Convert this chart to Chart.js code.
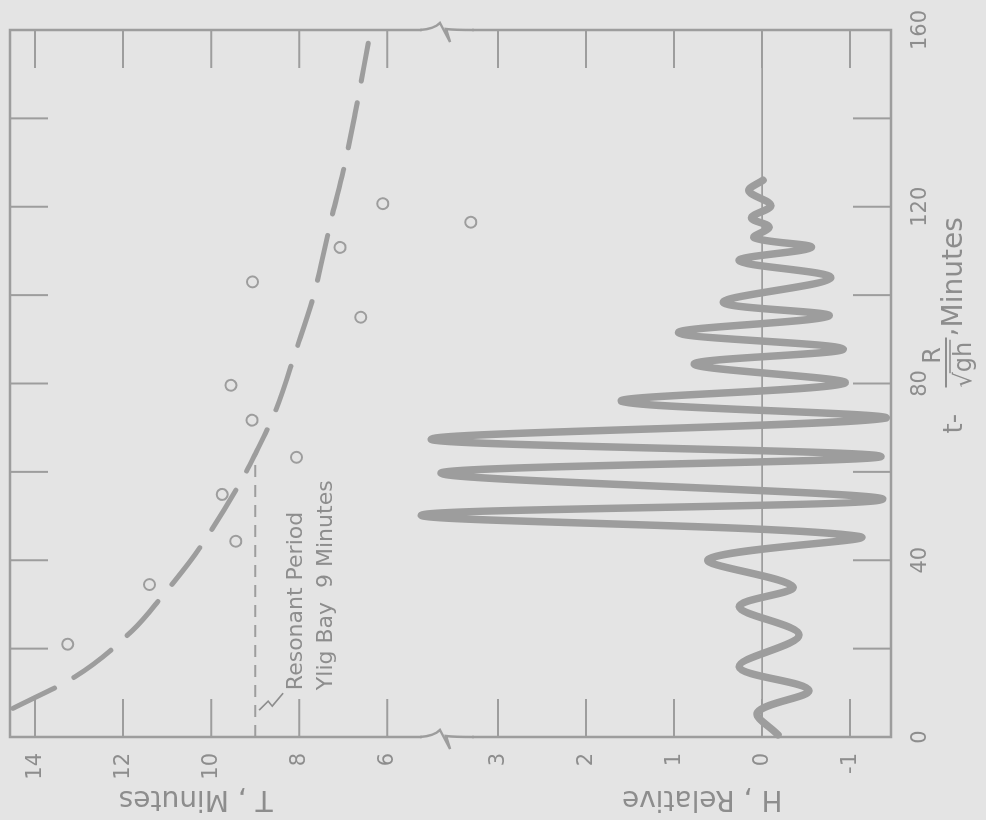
<!DOCTYPE html>
<html>
<head>
<meta charset="utf-8">
<script src="https://cdn.jsdelivr.net/npm/chart.js@4.4.0/dist/chart.umd.min.js"></script>
<style>
  html, body { margin: 0; padding: 0; width: 986px; height: 820px; overflow: hidden; background: #e4e4e4; }
  /* chart is drawn upright, then turned a quarter turn like the scanned figure */
  #wrap { position: absolute; left: 0; top: 0; width: 820px; height: 986px;
          transform-origin: 0 0; transform: translate(0, 820px) rotate(-90deg); }
</style>
</head>
<body>
<div id="wrap"><canvas id="fig" width="820" height="986"></canvas></div>
<script>
// observed periods (circles)
const periodTime = [21.0, 34.5, 44.3, 54.9, 63.3, 71.7, 79.6, 95.0, 103.0, 110.8, 116.5, 120.7];
const periodT    = [13.26, 11.40, 9.44, 9.75, 8.06, 9.07, 9.55, 6.60, 9.06, 7.07, 4.10, 6.10];

// dashed trend of the period
const fitTime = [6.5, 13.6, 24.0, 32.0, 39.5, 44.0, 58.8, 64.0, 73.5, 87.5, 99.5, 107.0, 118.0, 128.0, 141.0, 157.0];
const fitT    = [14.5, 13.1, 11.8, 11.1, 10.5, 10.18, 9.27, 9.0, 8.55, 8.07, 7.68, 7.5, 7.25, 7.0, 6.73, 6.43];

// resonant period line
const resonantTime = [0, 64];
const resonantT    = [9, 9];

// wave record, turning points
const waveTime = [0.5, 5.6, 10.6, 15.9, 23.1, 29.5, 34.0, 40.2, 45.4, 50.2, 53.8, 59.7, 63.5, 67.4, 72.2,
                  76.0, 80.1, 84.4, 87.8, 91.5, 95.3, 98.4, 103.9, 107.8, 110.8, 113.0, 115.4, 117.5, 120.3, 123.6, 126.0];
const waveH    = [-0.18, 0.05, -0.53, 0.26, -0.42, 0.26, -0.35, 0.61, -1.10, 3.87, -1.37, 3.65, -1.35, 3.76, -1.41,
                  1.60, -0.94, 0.77, -0.92, 0.95, -0.76, 0.44, -0.78, 0.26, -0.56, 0.09, -0.08, 0.12, -0.10, 0.15, -0.01];

// ticks
const tTicks   = [0, 20, 40, 60, 80, 100, 120, 140, 160];
const tLabels  = [0, 40, 80, 120, 160];
const TTicks   = [6, 8, 10, 12, 14];
const HTicks   = [-1, 0, 1, 2, 3];

const ink = '#9d9d9d';
const textInk = '#8d8d8d';
const paper = '#e4e4e4';
const FONT = '"DejaVu Sans", sans-serif';

Chart.defaults.font.family = FONT;
Chart.defaults.color = textInk;

const pts = (xs, ys) => xs.map((x, i) => ({ x: x, y: ys[i] }));

function valueAxis(tickList, min, max, weight, stackWeight) {
  return {
    type: 'linear', position: 'left', stack: 'side', stackWeight: stackWeight, weight: weight,
    min: min, max: max,
    grid: { display: false }, border: { display: false },
    afterBuildTicks: s => { s.ticks = tickList.map(v => ({ value: v })); },
    afterFit: s => { s.width = 83; s.paddingTop = 0; s.paddingBottom = 0; },
    ticks: { autoSkip: false, padding: 8, color: textInk, font: { size: 21 } }
  };
}

// frame, inward ticks, zero line, axis breaks and the texts
const figureBits = {
  id: 'figureBits',
  beforeDatasetsDraw(chart) {
    const { ctx, chartArea: a, scales } = chart;
    const L = 38;
    ctx.save();
    ctx.strokeStyle = ink;
    ctx.lineWidth = 2.5;
    ctx.strokeRect(a.left, a.top, a.right - a.left, a.bottom - a.top);

    ctx.lineWidth = 2;
    ctx.beginPath();
    scales.x.ticks.forEach(t => {
      const px = scales.x.getPixelForValue(t.value);
      if (px <= a.left + 1 || px >= a.right - 1) return;
      ctx.moveTo(px, a.top); ctx.lineTo(px, a.top + L);
      ctx.moveTo(px, a.bottom); ctx.lineTo(px, a.bottom - L);
    });
    ['yT', 'yH'].forEach(id => {
      scales[id].ticks.forEach(t => {
        const py = scales[id].getPixelForValue(t.value);
        ctx.moveTo(a.left, py); ctx.lineTo(a.left + L, py);
        ctx.moveTo(a.right, py); ctx.lineTo(a.right - L, py);
      });
    });
    ctx.stroke();

    // H = 0
    const y0 = scales.yH.getPixelForValue(0);
    ctx.lineWidth = 1.6;
    ctx.beginPath(); ctx.moveTo(a.left, y0); ctx.lineTo(a.right, y0); ctx.stroke();

    // breaks between the two panels
    const yb = scales.yT.bottom;
    [a.left, a.right].forEach(ex => {
      ctx.fillStyle = paper;
      ctx.fillRect(ex - 4, yb - 18, 8, 50);
      ctx.lineWidth = 2.5;
      ctx.beginPath();
      ctx.moveTo(ex, yb - 20);
      ctx.quadraticCurveTo(ex + 1, yb - 6, ex + 7, yb);
      ctx.lineTo(ex - 12, yb + 10);
      ctx.lineTo(ex + 1, yb + 6);
      ctx.quadraticCurveTo(ex, yb + 14, ex, yb + 34);
      ctx.stroke();
    });
    ctx.restore();
  },
  afterDatasetsDraw(chart) {
    const { ctx, chartArea: a, scales } = chart;
    ctx.save();
    ctx.fillStyle = textInk;
    ctx.strokeStyle = textInk;

    // note at the resonant line
    const nx = scales.x.getPixelForValue(10.6);
    const n1 = scales.yT.getPixelForValue(7.93);
    const n2 = scales.yT.getPixelForValue(7.25);
    ctx.font = '22px ' + FONT;
    ctx.textAlign = 'left';
    ctx.textBaseline = 'alphabetic';
    ctx.fillText('Resonant Period', nx, n1);
    ctx.fillText('Ylig Bay  9 Minutes', nx, n2);
    const ry = scales.yT.getPixelForValue(9);
    ctx.lineWidth = 1.6;
    ctx.beginPath();
    ctx.moveTo(nx - 20, ry + 4); ctx.lineTo(nx - 11, ry + 13);
    ctx.lineTo(nx - 16, ry + 17); ctx.lineTo(nx - 3, ry + 28);
    ctx.stroke();

    // value axis titles
    ctx.font = '28px ' + FONT;
    ctx.textAlign = 'center';
    ctx.textBaseline = 'middle';
    [['T , Minutes', scales.yT.getPixelForValue(10.35)], ['H , Relative', scales.yH.getPixelForValue(0.68)]].forEach(([txt, cy]) => {
      ctx.save();
      ctx.translate(22, cy);
      ctx.rotate(-Math.PI / 2);
      ctx.fillText(txt, 0, 0);
      ctx.restore();
    });

    // time axis title  t - R/sqrt(gh) , Minutes
    const cx = scales.x.getPixelForValue(80);
    const b = a.bottom;
    ctx.textBaseline = 'alphabetic';
    ctx.textAlign = 'left';
    ctx.font = '26px ' + FONT;
    ctx.fillText('t-', cx - 50, b + 71);
    ctx.font = '24px ' + FONT;
    ctx.textAlign = 'center';
    ctx.fillText('R', cx + 28, b + 49);
    ctx.lineWidth = 2;
    ctx.beginPath(); ctx.moveTo(cx - 4, b + 55); ctx.lineTo(cx + 46, b + 55); ctx.stroke();
    ctx.textAlign = 'left';
    const wr = ctx.measureText('\u221A').width;
    const wa = ctx.measureText('\u221Agh').width;
    ctx.fillText('\u221Agh', cx - 4, b + 80);
    ctx.lineWidth = 1.6;
    ctx.beginPath(); ctx.moveTo(cx - 5 + wr, b + 59); ctx.lineTo(cx - 2 + wa, b + 59); ctx.stroke();
    ctx.font = '28px ' + FONT;
    ctx.fillText(',', cx + 47, b + 64);
    ctx.fillText('Minutes', cx + 56, b + 71);
    ctx.restore();
  }
};

new Chart(document.getElementById('fig'), {
  type: 'line',
  data: {
    datasets: [
      {
        label: 'H', yAxisID: 'yH', data: pts(waveTime, waveH), clip: false,
        borderColor: ink, borderWidth: 7.5, pointRadius: 0, tension: 0.35,
        borderCapStyle: 'round', borderJoinStyle: 'round', fill: false
      },
      {
        label: 'T trend', yAxisID: 'yT', data: pts(fitTime, fitT),
        borderColor: ink, borderWidth: 5, pointRadius: 0, cubicInterpolationMode: 'monotone',
        borderDash: [46, 22], borderCapStyle: 'round', fill: false
      },
      {
        label: 'Resonant period', yAxisID: 'yT', data: pts(resonantTime, resonantT),
        borderColor: ink, borderWidth: 2, pointRadius: 0, borderDash: [12, 8], fill: false
      },
      {
        label: 'T observed', yAxisID: 'yT', data: pts(periodTime, periodT), clip: false,
        showLine: false, pointRadius: 5.5, pointBorderWidth: 2,
        pointBorderColor: ink, pointBackgroundColor: 'rgba(0,0,0,0)'
      }
    ]
  },
  options: {
    responsive: false,
    animation: false,
    layout: { padding: { top: 10, right: 30, left: 0, bottom: 0 } },
    plugins: { legend: { display: false }, tooltip: { enabled: false } },
    scales: {
      x: {
        type: 'linear', position: 'bottom', min: 0, max: 160,
        grid: { display: false }, border: { display: false },
        afterBuildTicks: s => { s.ticks = tTicks.map(v => ({ value: v })); },
        afterFit: s => { s.height = 95; s.paddingLeft = 0; s.paddingRight = 0; },
        ticks: {
          autoSkip: false, maxRotation: 0, padding: 9, color: textInk, font: { size: 21 },
          callback: v => tLabels.includes(v) ? String(v) : ''
        }
      },
      yT: valueAxis(TTicks, 4.8, 14.57, 2, 430),
      yH: valueAxis(HTicks, -1.465, 3.66, 1, 451)
    }
  },
  plugins: [figureBits]
});
</script>
</body>
</html>
